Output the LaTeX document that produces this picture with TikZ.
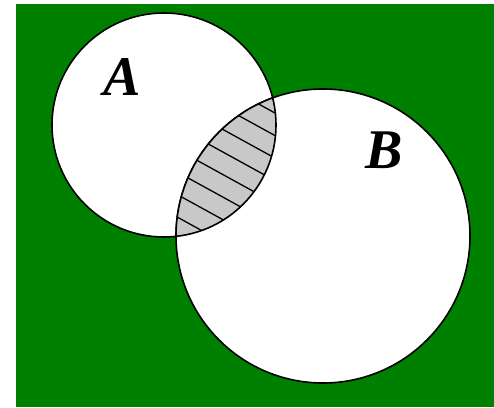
\documentclass[tikz,border=0pt]{standalone}
\usepackage{fontspec}
\setmainfont{Liberation Serif}
\newfontfamily\lblfont{Liberation Serif}[UprightFont=* Bold Italic]
\usetikzlibrary{calc}
\definecolor{bggreen}{HTML}{008000}
\definecolor{lensgray}{HTML}{C8C8C8}
\begin{document}
\begin{tikzpicture}[x=1pt,y=1pt,
  setcircle/.style={draw=black,line width=1.6pt,fill=white},
  hatchline/.style={draw=black,line width=1.3pt},
  setlabel/.style={font=\fontsize{56}{56}\lblfont,inner sep=0pt}]
\useasboundingbox (0,0) rectangle (494,407);
\fill[bggreen] (16,0) rectangle (494,403);
% circles
\coordinate (ca) at (164,282);
\coordinate (cb) at (323,171);
\path[setcircle] (ca) circle (112);
\path[setcircle] (cb) circle (147);
% lens
\begin{scope}
  \clip (ca) circle (112);
  \fill[lensgray] (cb) circle (147);
  \clip (cb) circle (147);
  \coordinate (p1) at (177,175);
  \coordinate (p2) at (275,309);
  \foreach \t in {0.08,0.20,0.32,0.44,0.56,0.68,0.80,0.92}{
    \draw[hatchline] ($(p1)!\t!(p2)+(-100,55)$) -- ($(p1)!\t!(p2)+(100,-55)$);
  }
\end{scope}
\begin{scope}
  \clip (ca) circle (112);
  \draw[line width=1.6pt] (cb) circle (147);
\end{scope}
\begin{scope}
  \clip (cb) circle (147);
  \draw[line width=1.6pt] (ca) circle (112);
\end{scope}
\node[setlabel] (la) at (122,330) {A};
\node[setlabel] (lb) at (384,257) {B};
\end{tikzpicture}
\end{document}
